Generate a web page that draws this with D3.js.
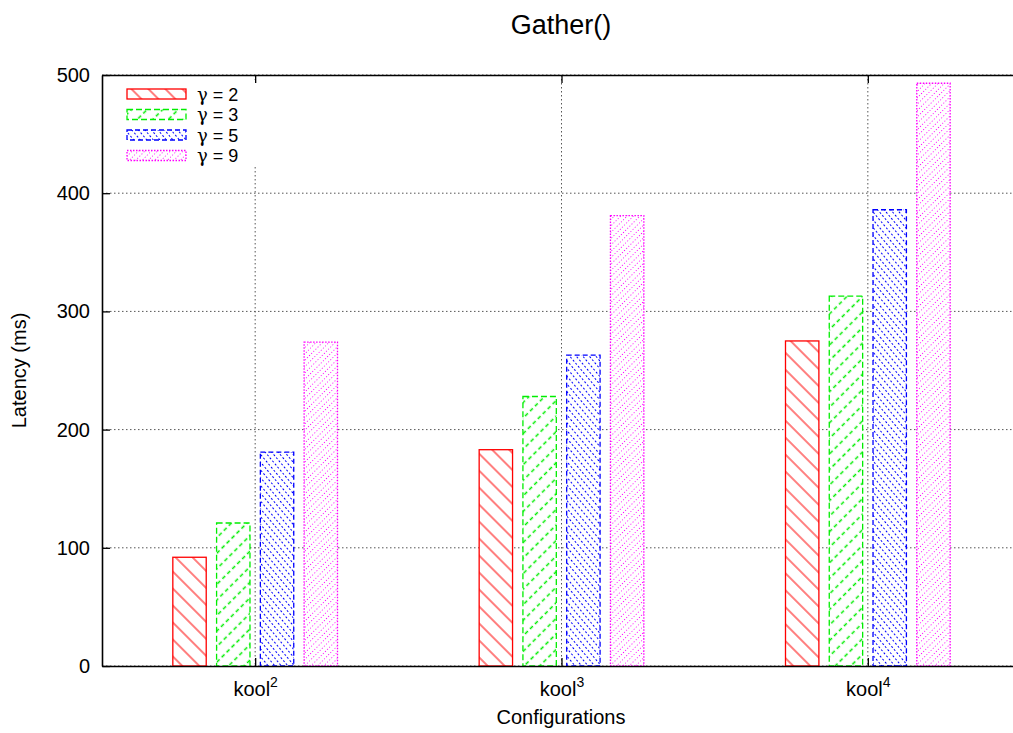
<!DOCTYPE html>
<html>
<head>
<meta charset="utf-8">
<script src="https://cdn.jsdelivr.net/npm/d3@7"></script>
<style>
  html, body { margin: 0; padding: 0; background: #fff; }
  svg { display: block; font-family: "Liberation Sans", Arial, Helvetica, sans-serif; }
</style>
</head>
<body>
<svg id="chart" width="1013" height="733"></svg>
<script>
// Configurations on the x axis (kool with a superscript exponent)
const configs = ["kool2", "kool3", "kool4"];
const configBase = ["kool", "kool", "kool"];
const configExp = ["2", "3", "4"];

// Series: gamma values
const gammas = ["γ = 2", "γ = 3", "γ = 5", "γ = 9"];

// Latency (ms) for each gamma, per configuration
const gamma2 = [92, 183, 275];
const gamma3 = [121, 228, 313];
const gamma5 = [181, 263, 386];
const gamma9 = [274, 381, 493];

const yTicks = [0, 100, 200, 300, 400, 500];

const seriesValues = [gamma2, gamma3, gamma5, gamma9];
const colors = ["#ff0000", "#00ee00", "#0000ff", "#ff00ff"];

const svg = d3.select("#chart");
const margin = { left: 102, top: 75, bottom: 666, right: 1021 };

// Histogram-style x: one unit per configuration
const x = d3.scaleLinear().domain([-0.5, configs.length - 0.5]).range([margin.left, margin.right]);
const y = d3.scaleLinear().domain([0, 500]).range([margin.bottom, margin.top]);

const slot = 1 / 7;          // each bar occupies one slot, groups have 4 bars plus a gap
const barW = 0.109;          // width of a bar in x units

// Fill patterns for the four series
const defs = svg.append("defs");
const patSpecs = [
  { size: 12, rot: 45, dash: null, sw: 1 },
  { size: 11, rot: -45, dash: "4,3", len: 14, sw: 1.3 },
  { size: 5, rot: 50, dash: "2,2", len: 8, sw: 1.2 },
  { size: 4.5, rot: -45, dash: "1,2", len: 6, sw: 1.1 }
];
patSpecs.forEach((p, i) => {
  const w = p.len || p.size;
  const pat = defs.append("pattern")
    .attr("id", "hatch" + i)
    .attr("patternUnits", "userSpaceOnUse")
    .attr("width", w)
    .attr("height", p.size)
    .attr("patternTransform", `rotate(${p.rot})`);
  pat.append("rect").attr("width", w).attr("height", p.size).attr("fill", "#fff");
  const ln = pat.append("line")
    .attr("x1", 0).attr("x2", w)
    .attr("y1", p.size / 2).attr("y2", p.size / 2)
    .attr("stroke", colors[i])
    .attr("stroke-width", p.sw);
  if (p.dash) ln.attr("stroke-dasharray", p.dash);
});
const outlineDash = [null, "6,3", "5,3", "1.5,1.5"];

// Grid
const grid = svg.append("g").attr("stroke", "#555").attr("stroke-width", 1).attr("stroke-dasharray", "1.5,2.5");
grid.selectAll("line.h").data(yTicks).join("line")
  .attr("class", "h")
  .attr("x1", margin.left).attr("x2", margin.right)
  .attr("y1", d => y(d)).attr("y2", d => y(d));
grid.selectAll("line.v").data(configs.map((c, i) => i)).join("line")
  .attr("class", "v")
  .attr("x1", d => x(d)).attr("x2", d => x(d))
  .attr("y1", margin.top).attr("y2", margin.bottom);

// Legend background (covers the grid)
svg.append("rect")
  .attr("x", 110).attr("y", 80).attr("width", 152).attr("height", 86)
  .attr("fill", "#fff");

// Bars
const bars = svg.append("g");
seriesValues.forEach((vals, s) => {
  bars.selectAll(null).data(vals).join("rect")
    .attr("x", (d, i) => x(i + (s - 1.5) * slot - barW / 2))
    .attr("width", x(barW) - x(0))
    .attr("y", d => y(d))
    .attr("height", d => y(0) - y(d))
    .attr("fill", `url(#hatch${s})`)
    .attr("stroke", colors[s])
    .attr("stroke-width", 1.3)
    .attr("stroke-dasharray", outlineDash[s]);
});

// Axes (ticks point inward, mirrored on the top)
const axisStyle = g => {
  g.selectAll("path.domain").attr("stroke", "#000").attr("stroke-width", 1.6);
  g.selectAll(".tick line").attr("stroke", "#000").attr("stroke-width", 1.3);
  g.selectAll(".tick text").attr("fill", "#000").style("font-size", "20px")
    .style("font-family", "'Liberation Sans', Arial, sans-serif");
};

svg.append("g")
  .attr("transform", `translate(${margin.left},0)`)
  .call(d3.axisLeft(y).tickValues(yTicks).tickSize(-8).tickPadding(12).tickSizeOuter(0))
  .call(axisStyle);

svg.append("g")
  .attr("transform", `translate(${margin.right},0)`)
  .call(d3.axisRight(y).tickValues(yTicks).tickSize(-8).tickSizeOuter(0).tickFormat(""))
  .call(axisStyle);

svg.append("g")
  .attr("transform", `translate(0,${margin.top})`)
  .call(d3.axisTop(x).tickValues([0, 1, 2]).tickSize(-8).tickSizeOuter(0).tickFormat(""))
  .call(axisStyle);

const xAxis = svg.append("g")
  .attr("transform", `translate(0,${margin.bottom})`)
  .call(d3.axisBottom(x).tickValues([0, 1, 2]).tickSize(-8).tickPadding(14).tickSizeOuter(0).tickFormat(""))
  .call(axisStyle);

xAxis.selectAll(".tick text").each(function (d) {
  const t = d3.select(this).attr("dy", null).attr("y", 30);
  t.text(null);
  t.append("tspan").text(configBase[d]);
  t.append("tspan").attr("dy", -9).style("font-size", "14px").text(configExp[d]);
});

// Legend entries (the gamma glyph is set in a font with a looped Greek gamma)
const legend = svg.append("g");
gammas.forEach((label, i) => {
  const yy = 89 + i * 20.5;
  legend.append("rect")
    .attr("x", 127).attr("y", yy).attr("width", 59).attr("height", 10)
    .attr("fill", `url(#hatch${i})`)
    .attr("stroke", colors[i])
    .attr("stroke-width", 1.3)
    .attr("stroke-dasharray", outlineDash[i]);
  const txt = legend.append("text")
    .attr("x", 197).attr("y", yy + 11.5)
    .style("font-size", "18px");
  txt.append("tspan").style("font-family", "'DejaVu Serif', serif").text(label.slice(0, 1));
  txt.append("tspan").text(label.slice(1));
});

// Titles
svg.append("text")
  .attr("x", 561).attr("y", 34)
  .attr("text-anchor", "middle")
  .style("font-size", "27px")
  .text("Gather()");

svg.append("text")
  .attr("x", 561).attr("y", 724)
  .attr("text-anchor", "middle")
  .style("font-size", "20px")
  .text("Configurations");

svg.append("text")
  .attr("transform", `translate(26,${(margin.top + margin.bottom) / 2}) rotate(-90)`)
  .attr("text-anchor", "middle")
  .style("font-size", "20px")
  .text("Latency (ms)");
</script>
</body>
</html>
